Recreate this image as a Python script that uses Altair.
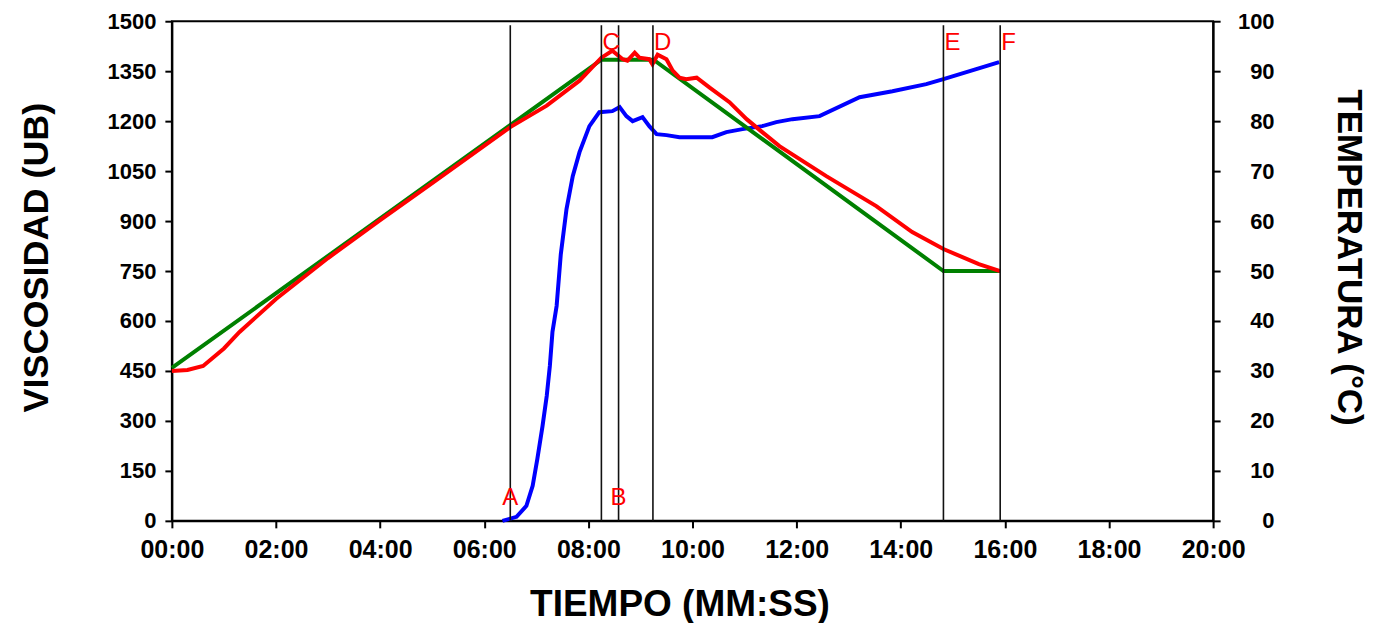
import altair as alt
import pandas as pd

# ---- data ----
# programmed temperature profile (green), minutes / degC
set_t = [0.0, 8.25, 9.25, 14.82, 15.91]
set_temp = [30.6, 92.3, 92.3, 50.0, 50.0]

# measured temperature (red), minutes / degC
real_t = [0.0, 0.3, 0.6, 1.0, 1.3, 2.0, 3.0, 4.0, 5.0, 5.91, 6.5, 7.2, 7.83,
          8.25, 8.46, 8.66, 8.75, 8.89, 8.98, 9.17, 9.23, 9.33, 9.50, 9.62,
          9.75, 9.88, 10.08, 10.33, 10.71, 11.04, 11.34, 11.67, 12.57, 13.53,
          14.22, 14.82, 15.5, 15.91]
real_temp = [30.0, 30.2, 31.0, 34.5, 37.8, 44.4, 52.6, 60.2, 67.6, 74.4, 78.8,
             83.1, 88.1, 92.7, 94.1, 92.4, 92.1, 93.7, 92.7, 92.4, 91.4, 93.3,
             92.4, 90.1, 88.7, 88.4, 88.7, 86.7, 83.8, 80.4, 77.8, 75.0, 69.0,
             63.0, 57.8, 54.4, 51.4, 50.0]

# viscosity (blue), minutes / UB
visc_t = [6.35, 6.62, 6.81, 6.93, 7.02, 7.12, 7.20, 7.26, 7.31, 7.39, 7.47,
          7.58, 7.70, 7.83, 8.02, 8.21, 8.46, 8.60, 8.73, 8.85, 9.04, 9.17,
          9.31, 9.50, 9.75, 10.08, 10.38, 10.65, 10.96, 11.34, 11.61, 11.92,
          12.44, 13.21, 13.84, 14.49, 14.82, 15.45, 15.89]
visc = [0, 12, 45, 105, 186, 285, 375, 465, 567, 645, 800, 936, 1035, 1107,
        1185, 1227, 1230, 1242, 1215, 1200, 1212, 1185, 1161, 1158, 1152, 1152,
        1152, 1167, 1176, 1185, 1197, 1206, 1215, 1272, 1290, 1311, 1326,
        1356, 1377]

# event markers
top_labels = ["C", "D", "E", "F"]
top_label_t = [8.25, 9.24, 14.82, 15.91]
bottom_labels = ["A", "B"]
bottom_label_t = [6.50, 8.58]
rule_t = [6.50, 8.25, 8.58, 9.24, 14.82, 15.91]

time_ticks = list(range(0, 21, 2))
visc_ticks = list(range(0, 1501, 150))
temp_ticks = list(range(0, 101, 10))

# ---- tables ----
df_set = pd.DataFrame({"t": set_t, "v": set_temp})
df_real = pd.DataFrame({"t": real_t, "v": real_temp})
df_visc = pd.DataFrame({"t": visc_t, "v": visc})
df_rules = pd.DataFrame({"t": rule_t})
df_top = pd.DataFrame({"t": top_label_t, "lab": top_labels})
df_bot = pd.DataFrame({"t": bottom_label_t, "lab": bottom_labels})

FONT = "Liberation Sans"

x_enc = alt.X(
    "t:Q",
    scale=alt.Scale(domain=[0, 20], nice=False, zero=False),
    axis=alt.Axis(
        values=time_ticks,
        labelExpr="(datum.value < 10 ? '0' : '') + datum.value + ':00'",
        title="TIEMPO (MM:SS)",
        titleX=508, titleY=95, titleBaseline="alphabetic", titleAlign="center",
        titleFontSize=37,
        labelFontSize=25, labelPadding=10, labelFlush=False,
        labelOverlap=False,
    ),
)

visc_axis = alt.Axis(
    values=visc_ticks, orient="left", title="VISCOSIDAD (UB)", format="d",
    titleAngle=-90, titleX=-124, titleY=236, titleBaseline="alphabetic",
    titleAlign="center", labelFontSize=22, labelPadding=9, labelFlush=False,
    labelOverlap=False,
)
temp_axis = alt.Axis(
    values=temp_ticks, orient="right", title="TEMPERATURA (°C)", format="d",
    titleAngle=90, titleX=124, titleY=236, titleBaseline="alphabetic",
    titleAlign="center", titleFontSize=35, labelFontSize=22, labelAlign="right",
    labelPadding=54, labelFlush=False, labelOverlap=False,
)

visc_line = alt.Chart(df_visc).mark_line(color="#0000FF", strokeWidth=4).encode(
    x=x_enc,
    y=alt.Y("v:Q", scale=alt.Scale(domain=[0, 1500], nice=False), axis=visc_axis),
)

set_line = alt.Chart(df_set).mark_line(color="#008000", strokeWidth=4).encode(
    x=x_enc,
    y=alt.Y("v:Q", scale=alt.Scale(domain=[0, 100], nice=False), axis=temp_axis),
)
real_line = alt.Chart(df_real).mark_line(color="#FF0000", strokeWidth=4).encode(
    x=x_enc,
    y=alt.Y("v:Q", scale=alt.Scale(domain=[0, 100], nice=False), axis=temp_axis),
)
temp_layer = alt.layer(set_line, real_line)

rules = alt.Chart(df_rules).mark_rule(color="#111111", strokeWidth=1.6).encode(
    x=x_enc, y=alt.value(4), y2=alt.value(500)
)
top_text = alt.Chart(df_top).mark_text(
    color="#FF0000", font=FONT, fontSize=24, align="left", baseline="alphabetic", dx=1
).encode(x=x_enc, y=alt.value(29), text="lab:N")
bot_text = alt.Chart(df_bot).mark_text(
    color="#FF0000", font=FONT, fontSize=24, align="center", baseline="alphabetic"
).encode(x=x_enc, y=alt.value(484), text="lab:N")

chart = (
    alt.layer(visc_line, temp_layer, rules, top_text, bot_text)
    .resolve_scale(y="independent")
    .properties(
        width=1042, height=500,
        autosize=alt.AutoSizeParams(type="none"),
        padding={"left": 164, "top": 13, "right": 158, "bottom": 102},
    )
    .configure_view(stroke="black", strokeWidth=2)
    .configure_axis(
        grid=False, domainColor="black", domainWidth=2, tickColor="black",
        tickWidth=2, tickSize=7, labelColor="black", labelFont=FONT,
        labelFontWeight="bold", titleFont=FONT, titleFontWeight="bold",
        titleFontSize=36, titleColor="black",
    )
)

chart.save("out.html", embed_options={"renderer": "svg", "actions": False})
